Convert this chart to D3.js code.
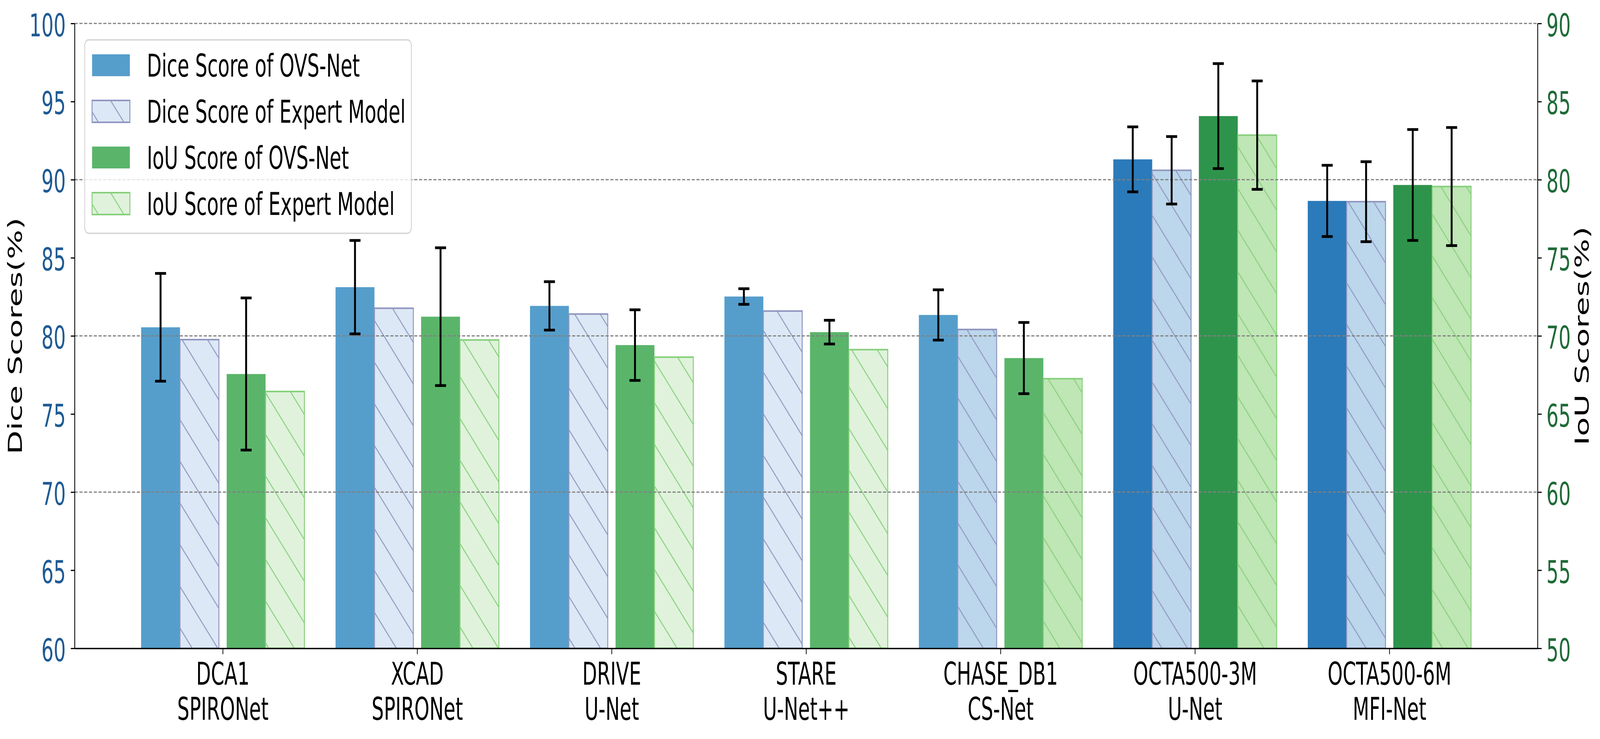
<!DOCTYPE html>
<html>
<head>
<meta charset="utf-8">
<script src="https://d3js.org/d3.v7.min.js"></script>
<style>
  html, body { margin: 0; padding: 0; background: #fff; overflow: hidden; }
  #chart svg { display: block; width: 100vw; height: 100vh; }
  text { font-family: "DejaVu Sans", sans-serif; }
</style>
</head>
<body>
<div id="chart"></div>
<script>
// datasets and the expert model used for each one
const datasets = ["DCA1", "XCAD", "DRIVE", "STARE", "CHASE_DB1", "OCTA500-3M", "OCTA500-6M"];
const experts = ["SPIRONet", "SPIRONet", "U-Net", "U-Net++", "CS-Net", "U-Net", "MFI-Net"];

// scores (%)
const diceOvs = [80.55, 83.12, 81.92, 82.52, 81.34, 91.30, 88.64];
const diceOvsErr = [3.45, 2.99, 1.55, 0.50, 1.61, 2.08, 2.28];
const diceExpert = [79.76, 81.77, 81.40, 81.59, 80.41, 90.60, 88.59];
const diceExpertErr = [null, null, null, null, null, 2.16, 2.56];
const iouOvs = [67.56, 71.23, 69.41, 70.24, 68.58, 84.07, 79.66];
const iouOvsErr = [4.87, 4.41, 2.26, 0.76, 2.28, 3.36, 3.55];
const iouExpert = [66.44, 69.74, 68.64, 69.12, 67.26, 82.85, 79.56];
const iouExpertErr = [null, null, null, null, null, 3.47, 3.78];

// per-group colours
const diceOvsColors = ["#559ecc", "#559ecc", "#559ecc", "#559ecc", "#559ecc", "#2b7ab9", "#2b7ab9"];
const diceExpertColors = ["#dce8f5", "#dce8f5", "#dce8f5", "#dce8f5", "#bcd6eb", "#bcd6eb", "#bcd6eb"];
const iouOvsColors = ["#5ab56a", "#5ab56a", "#5ab56a", "#5ab56a", "#5ab56a", "#2e944c", "#2e944c"];
const iouExpertColors = ["#e0f2dc", "#e0f2dc", "#e0f2dc", "#e0f2dc", "#bfe6b5", "#bfe6b5", "#bfe6b5"];

const legendLabels = ["Dice Score of OVS-Net", "Dice Score of Expert Model", "IoU Score of OVS-Net", "IoU Score of Expert Model"];

const blueEdge = "#8f96c0";
const greenEdge = "#86cf7a";
const diceTickColor = "#1f5b93";
const iouTickColor = "#1f6b38";

const W = 6690, H = 1891;
const margins = { top: 60, bottom: 232, left: 312, right: 261 };
const fs = 80;
const barW = 0.2;

// drawn in a fixed 6690x1891 coordinate system, filling the window
const svg = d3.select("#chart").append("svg")
  .attr("viewBox", `0 0 ${W} ${H}`)
  .attr("preserveAspectRatio", "none")
  .style("background", "#fff");

const defs = svg.append("defs");
function addHatch(id, color) {
  const s = 106.7, d = 14;
  defs.append("pattern")
    .attr("id", id)
    .attr("patternUnits", "userSpaceOnUse")
    .attr("width", s).attr("height", s)
    .attr("y", 1.4)
    .append("path")
    .attr("d", `M0,0L${s},${s}M${-d},${s - d}L${d},${s + d}M${s - d},${-d}L${s + d},${d}`)
    .attr("stroke", color)
    .attr("stroke-width", 3.3)
    .attr("fill", "none");
}
addHatch("hatchBlue", blueEdge);
addHatch("hatchGreen", greenEdge);

const x = d3.scaleLinear()
  .domain([-0.762, 6.762])
  .range([margins.left, W - margins.right]);

const yDice = d3.scaleLinear()
  .domain([60, 100])
  .range([H - margins.bottom, margins.top]);

const yIou = d3.scaleLinear()
  .domain([50, 90])
  .range([H - margins.bottom, margins.top]);

const series = [
  { vals: diceOvs, err: diceOvsErr, y: yDice, off: -0.32, fill: diceOvsColors, hatch: null, edge: null },
  { vals: diceExpert, err: diceExpertErr, y: yDice, off: -0.12, fill: diceExpertColors, hatch: "hatchBlue", edge: blueEdge },
  { vals: iouOvs, err: iouOvsErr, y: yIou, off: 0.12, fill: iouOvsColors, hatch: null, edge: null },
  { vals: iouExpert, err: iouExpertErr, y: yIou, off: 0.32, fill: iouExpertColors, hatch: "hatchGreen", edge: greenEdge }
];

// bars
series.forEach(s => {
  const g = svg.append("g");
  const rows = s.vals.map((v, i) => ({ v, i }));
  const x0 = d => x(d.i + s.off - barW / 2);
  const bw = x(barW) - x(0);
  const y0 = s.y.range()[0];
  g.selectAll("rect.fill").data(rows).join("rect")
    .attr("class", "fill")
    .attr("x", x0).attr("width", bw)
    .attr("y", d => s.y(d.v)).attr("height", d => y0 - s.y(d.v))
    .attr("fill", d => s.fill[d.i]);
  if (s.hatch) {
    g.selectAll("rect.hatch").data(rows).join("rect")
      .attr("class", "hatch")
      .attr("x", x0).attr("width", bw)
      .attr("y", d => s.y(d.v)).attr("height", d => y0 - s.y(d.v))
      .attr("fill", `url(#${s.hatch})`)
      .attr("stroke", s.edge)
      .attr("stroke-width", 4);
  }
});

// dashed grid, drawn above the bars like the twin axis grid
svg.append("g").selectAll("line").data([70, 80, 90, 100]).join("line")
  .attr("x1", x.range()[0]).attr("x2", x.range()[1])
  .attr("y1", d => yDice(d)).attr("y2", d => yDice(d))
  .attr("stroke", "#808080")
  .attr("stroke-width", 3)
  .attr("stroke-dasharray", "13,7");

// error bars
series.forEach(s => {
  const rows = s.vals.map((v, i) => ({ v, e: s.err[i], i })).filter(d => d.e != null);
  const g = svg.append("g").attr("stroke", "#000");
  const cx = d => x(d.i + s.off);
  g.selectAll("line.v").data(rows).join("line")
    .attr("class", "v")
    .attr("x1", cx).attr("x2", cx)
    .attr("y1", d => s.y(d.v - d.e)).attr("y2", d => s.y(d.v + d.e))
    .attr("stroke-width", 8);
  [-1, 1].forEach(sign => {
    g.selectAll(`line.c${sign}`).data(rows).join("line")
      .attr("class", `c${sign}`)
      .attr("x1", d => cx(d) - 23).attr("x2", d => cx(d) + 23)
      .attr("y1", d => s.y(d.v + sign * d.e)).attr("y2", d => s.y(d.v + sign * d.e))
      .attr("stroke-width", 7);
  });
});

// axes
function styleAxis(g, color) {
  g.select(".domain").attr("stroke", "#000").attr("stroke-width", 3.5);
  g.selectAll(".tick line").attr("stroke", "#000").attr("stroke-width", 3);
  g.selectAll(".tick text")
    .attr("font-size", fs)
    .attr("font-family", "DejaVu Sans")
    .attr("fill", color);
}

const leftAxis = svg.append("g")
  .attr("transform", `translate(${margins.left},0)`)
  .call(d3.axisLeft(yDice).tickValues(d3.range(60, 101, 5)).tickSize(16).tickSizeOuter(0).tickPadding(21));
styleAxis(leftAxis, diceTickColor);
leftAxis.selectAll(".tick text").attr("dy", "0.4em");

const rightAxis = svg.append("g")
  .attr("transform", `translate(${W - margins.right},0)`)
  .call(d3.axisRight(yIou).tickValues(d3.range(50, 91, 5)).tickSize(17).tickSizeOuter(0).tickPadding(20));
styleAxis(rightAxis, iouTickColor);
rightAxis.selectAll(".tick text").attr("dy", "0.4em");

const bottomAxis = svg.append("g")
  .attr("transform", `translate(0,${H - margins.bottom})`)
  .call(d3.axisBottom(x).tickValues(d3.range(datasets.length)).tickSize(15).tickSizeOuter(0).tickFormat(""));
styleAxis(bottomAxis, "#000");
bottomAxis.selectAll(".tick").each(function (d) {
  const t = d3.select(this).append("text")
    .attr("text-anchor", "middle")
    .attr("font-size", fs)
    .attr("fill", "#000");
  t.append("tspan").attr("x", 0).attr("y", 93).text(datasets[d]);
  t.append("tspan").attr("x", 0).attr("y", 183).text(experts[d]);
});

// axis titles
svg.append("text")
  .attr("transform", `translate(92,${(margins.top + H - margins.bottom) / 2}) rotate(-90)`)
  .attr("text-anchor", "middle")
  .attr("font-size", fs)
  .text("Dice Scores(%)");

svg.append("text")
  .attr("transform", `translate(6642,${(margins.top + H - margins.bottom) / 2}) rotate(-90)`)
  .attr("text-anchor", "middle")
  .attr("font-size", fs)
  .text("IoU Scores(%)");

// legend
const legend = svg.append("g");
legend.append("rect")
  .attr("x", 354).attr("y", 102)
  .attr("width", 1366).attr("height", 495)
  .attr("rx", 16)
  .attr("fill", "#fff").attr("fill-opacity", 0.8)
  .attr("stroke", "#d4d4d4").attr("stroke-width", 3.5);

const legendRows = legend.selectAll("g.item").data(series).join("g")
  .attr("class", "item")
  .attr("transform", (d, i) => `translate(385,${167 + i * 118})`);

legendRows.append("rect")
  .attr("x", 0).attr("y", -28).attr("width", 158).attr("height", 56)
  .attr("fill", d => d.fill[0]);
legendRows.filter(d => d.hatch).append("rect")
  .attr("x", 0).attr("y", -28).attr("width", 158).attr("height", 56)
  .attr("fill", d => `url(#${d.hatch})`)
  .attr("stroke", d => d.edge)
  .attr("stroke-width", 4);
legendRows.append("text")
  .attr("x", 229).attr("y", 29)
  .attr("font-size", fs)
  .attr("fill", "#000")
  .text((d, i) => legendLabels[i]);
</script>
</body>
</html>
